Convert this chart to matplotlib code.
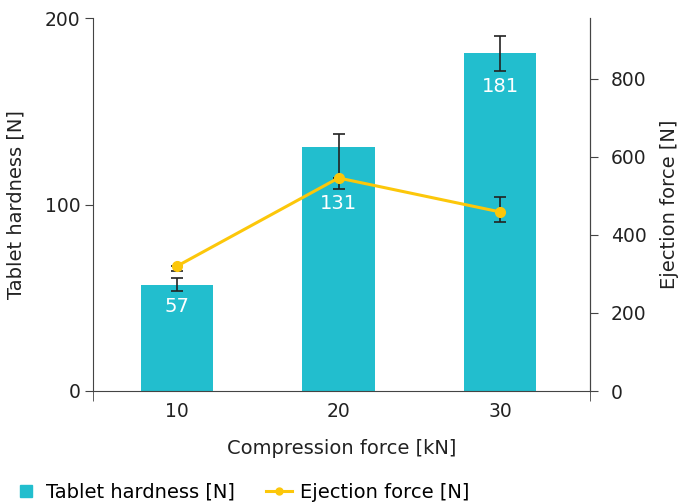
import matplotlib.pyplot as plt
from matplotlib.lines import Line2D

# data
forces = ['10', '20', '30']
hardness = [57, 131, 181]
hardness_err_lo = [3.6, 22.5, 9.4]
hardness_err_hi = [3.6, 6.8, 9.4]
ejection = [320, 546, 459]
ejection_err_lo = [13, 0, 26]
ejection_err_hi = [0, 0, 37]

teal = '#22bece'
yellow = '#fcc70a'
grey = '#444444'
dark = '#222222'


def main():
    plt.rcParams['font.family'] = 'DejaVu Sans'
    plt.rcParams['font.size'] = 14

    fig = plt.figure(figsize=(6.81, 5.04), dpi=100)
    ax = fig.add_axes([93 / 681, 1 - 391 / 504, 497 / 681, 373 / 504])
    ax2 = ax.twinx()

    x = list(range(len(forces)))
    ax.bar(x, hardness, width=0.446, color=teal, zorder=2)
    ax.errorbar(x, hardness, yerr=[hardness_err_lo, hardness_err_hi],
                fmt='none', ecolor=dark, elinewidth=1.2, capsize=4,
                capthick=1.2, zorder=3)

    # value labels sit just under the lower end of the error bar
    for xi, v, lo in zip(x, hardness, hardness_err_lo):
        ax.annotate(str(v), (xi, v - lo), xytext=(0, -11),
                    textcoords='offset points', ha='center', va='center',
                    color='white', fontsize=14, zorder=4)

    ax2.errorbar(x, ejection, yerr=[ejection_err_lo, ejection_err_hi],
                 fmt='none', ecolor=dark, elinewidth=1.2, capsize=4,
                 capthick=1.2, zorder=3)
    ax2.plot(x, ejection, color=yellow, lw=2.2, marker='o', ms=7, zorder=4)

    ax.set_xlim(-0.52, 2.557)
    ax.set_ylim(0, 200)
    ax2.set_ylim(0, 956)
    ax.set_yticks([0, 100, 200])
    ax2.set_yticks([0, 200, 400, 600, 800])
    ax.set_xticks(x)
    ax.set_xticklabels(forces)
    ax.set_xticks([-0.52, 2.557], minor=True)
    ax.tick_params(axis='x', which='major', length=0, pad=8, labelsize=13.5)
    ax.tick_params(axis='x', which='minor', length=7, color=grey)
    ax.tick_params(axis='y', length=6, color=grey, pad=3, labelsize=13.5)
    ax2.tick_params(axis='y', length=6, color=grey, pad=9, labelsize=13.5)

    for a in (ax, ax2):
        a.spines['top'].set_visible(False)
        for s in ('left', 'right', 'bottom'):
            a.spines[s].set_color(grey)
        a.tick_params(labelcolor=dark)
    ax2.spines['left'].set_visible(False)
    ax2.spines['bottom'].set_visible(False)
    ax.set_zorder(ax2.get_zorder() - 1)
    ax2.patch.set_visible(False)

    ax.set_xlabel('Compression force [kN]', labelpad=13, color=dark)
    ax.set_ylabel('Tablet hardness [N]', labelpad=14, color=dark)
    ax2.set_ylabel('Ejection force [N]', labelpad=10, color=dark)

    handles = [
        Line2D([], [], ls='none', marker='s', ms=9, color=teal),
        Line2D([], [], color=yellow, lw=2.2, marker='o', ms=5),
    ]
    fig.legend(handles, ['Tablet hardness [N]', 'Ejection force [N]'],
               loc='lower left', bbox_to_anchor=(-0.006, -0.03), ncol=2,
               frameon=False, handlelength=1.3, columnspacing=1.6,
               handletextpad=0.4, fontsize=14)

    fig.savefig('out.png', dpi=100)


if __name__ == '__main__':
    main()
